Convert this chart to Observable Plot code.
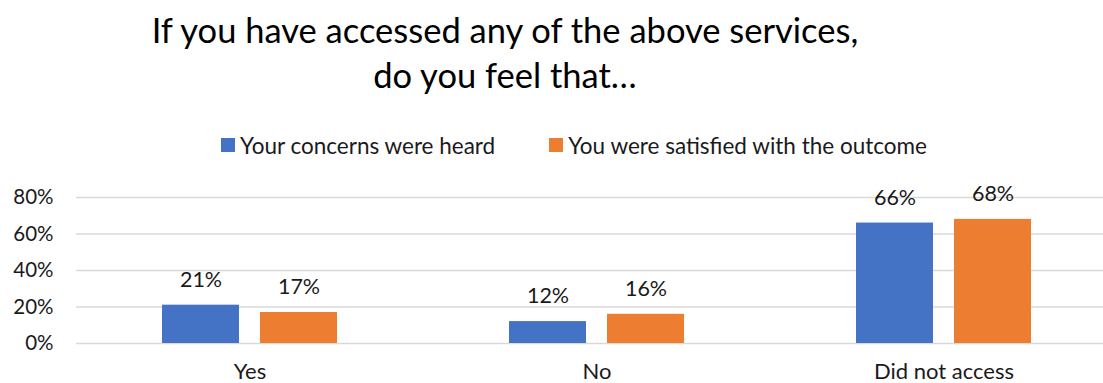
<!DOCTYPE html>
<html>
<head>
<meta charset="utf-8">
<script src="https://cdn.jsdelivr.net/npm/d3@7"></script>
<script src="https://cdn.jsdelivr.net/npm/@observablehq/plot@0.6"></script>
<style>
  html, body { margin: 0; padding: 0; background: #fff; }
  body { width: 1103px; height: 383px; position: relative; overflow: hidden; font-family: Lato, "Open Sans", sans-serif; color: #000; }
  #title { position: absolute; left: 0; top: 7px; width: 1010px; text-align: center; font-size: 34.5px; line-height: 45px; color: #000; }
  #legend { position: absolute; left: 0; top: 131px; width: 1148px; height: 28px; display: flex; justify-content: center; align-items: center; gap: 54px; font-size: 22.5px; color: #1a1a1a; }
  #legend .item { display: flex; align-items: center; }
  #legend .sw { width: 14px; height: 14px; margin-right: 5px; display: inline-block; }
  #chart { position: absolute; left: 0; top: 170px; }
</style>
</head>
<body>
<div id="title">If you have accessed any of the above services,<br>do you feel that…</div>
<div id="legend"></div>
<div id="chart"></div>
<script>
const categories = ["Yes", "No", "Did not access"];
const seriesNames = ["Your concerns were heard", "You were satisfied with the outcome"];
const seriesColors = ["#4472C4", "#ED7D31"];
const heardValues = [21, 12, 66];
const satisfiedValues = [17, 16, 68];
const yTicks = [0, 20, 40, 60, 80];

const data = [];
categories.forEach((c, i) => {
  data.push({category: c, series: seriesNames[0], value: heardValues[i]});
  data.push({category: c, series: seriesNames[1], value: satisfiedValues[i]});
});

const legend = document.getElementById("legend");
seriesNames.forEach((s, i) => {
  const it = document.createElement("div");
  it.className = "item";
  const sw = document.createElement("span");
  sw.className = "sw";
  sw.style.background = seriesColors[i];
  it.appendChild(sw);
  it.appendChild(document.createTextNode(s));
  legend.appendChild(it);
});

const chart = Plot.plot({
  width: 1103,
  height: 213,
  marginLeft: 75,
  marginRight: -14.5,
  marginTop: 27,
  marginBottom: 40,
  style: { fontFamily: "Lato, 'Open Sans', sans-serif", fontSize: "21px", color: "#1a1a1a", background: "#fff" },
  fx: { domain: categories, padding: 0, label: null, axis: null },
  x: { domain: seriesNames, paddingInner: 0.212, paddingOuter: 0.861, axis: null },
  y: { domain: [0, 80], label: null, axis: null },
  color: { domain: seriesNames, range: seriesColors },
  marks: [
    Plot.ruleY(yTicks, { stroke: "#d9d9d9", strokeWidth: 1.3 }),
    Plot.barY(data, { fx: "category", x: "series", y: "value", fill: "series" }),
    Plot.text(data, { fx: "category", x: "series", y: "value", text: d => d.value + "%", dy: -25, lineAnchor: "middle", fill: "#1a1a1a", fontSize: 21.5 }),
    Plot.axisY(yTicks, { anchor: "left", tickSize: 0, tickPadding: 23, tickFormat: d => d + "%", fontSize: 20.5, label: null }),
    Plot.axisFx({ anchor: "bottom", tickSize: 0, tickPadding: 20, fontSize: 22, label: null })
  ]
});
document.getElementById("chart").appendChild(chart);
</script>
</body>
</html>
